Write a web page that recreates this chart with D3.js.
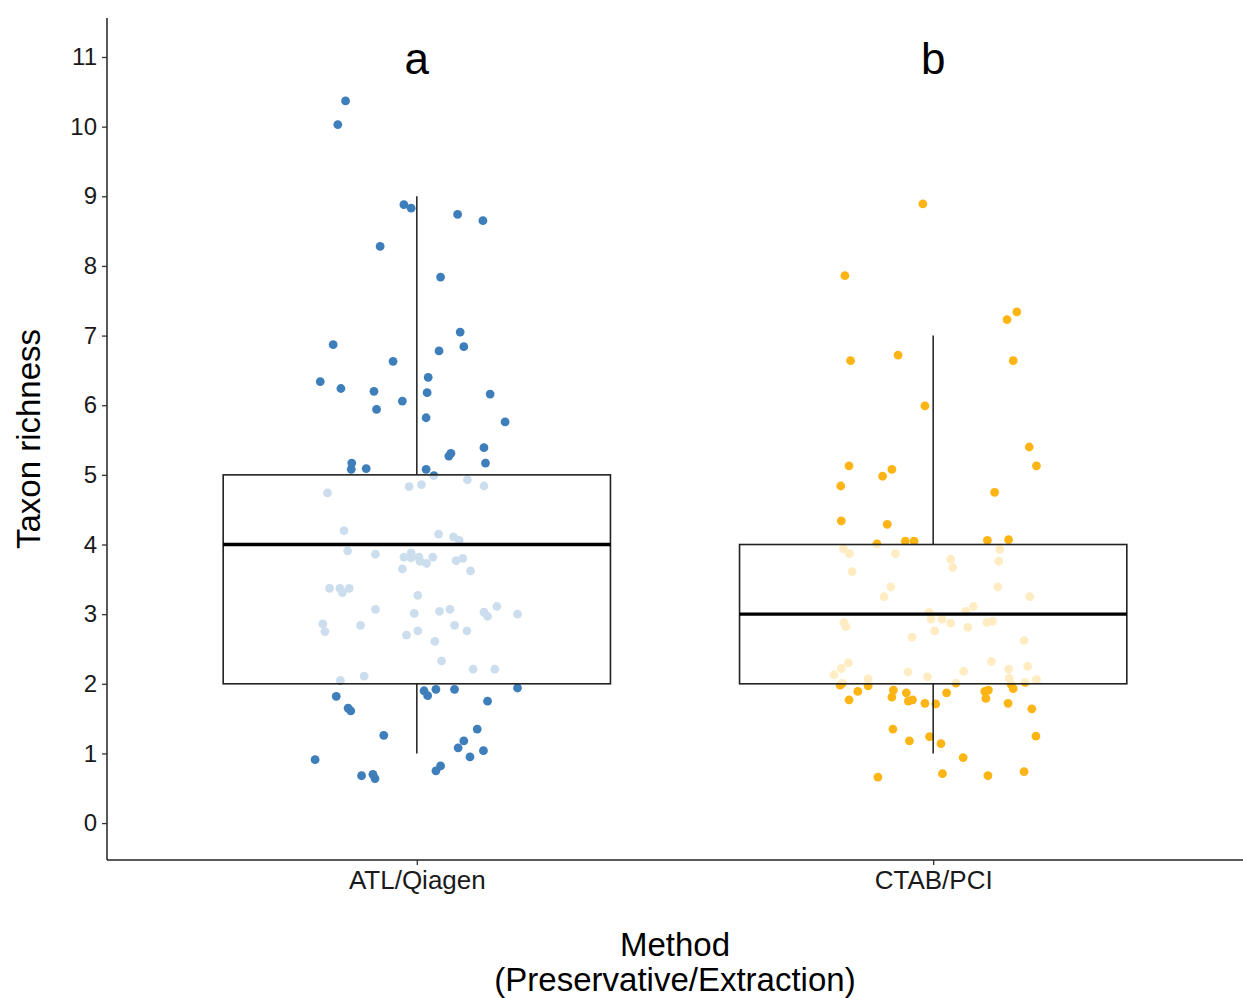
<!DOCTYPE html>
<html>
<head>
<meta charset="utf-8">
<script src="https://cdn.jsdelivr.net/npm/d3@7"></script>
<style>
  html, body { margin: 0; padding: 0; background: #fff; }
  svg { display: block; }
  text { font-family: "Liberation Sans", Arial, sans-serif; }
</style>
</head>
<body>
<svg id="chart" width="1243" height="998"></svg>
<script>
// ---------- data ----------
const categories = ["ATL/Qiagen", "CTAB/PCI"];
const groupLetters = ["a", "b"];
const pointColors = ["#3d7ebb", "#fdb515"];

// box statistics: [lower whisker, Q1, median, Q3, upper whisker]
const boxATL  = [1, 2, 4, 5, 9];
const boxCTAB = [1, 2, 3, 4, 7];

// jittered observations (richness as plotted, horizontal jitter as fraction of category step)
const atlRichness = [10.37,10.03,8.88,8.83,8.74,8.65,8.28,7.84,7.05,6.87,6.84,6.78,6.63,6.40,6.34,6.24,6.20,6.18,6.16,6.06,
  5.94,5.82,5.76,5.39,5.31,5.27,5.17,5.17,5.08,5.09,5.08,4.99,4.74,4.83,4.86,4.93,4.84,4.20,4.15,4.11,
  4.06,3.91,3.86,3.82,3.88,3.81,3.82,3.76,3.73,3.82,3.77,3.80,3.65,3.62,3.37,3.37,3.31,3.37,3.27,3.07,
  3.01,3.04,3.07,3.03,2.97,3.11,3.00,2.86,2.75,2.84,2.76,2.70,2.84,2.76,2.61,2.33,2.21,2.21,2.11,2.05,
  1.82,1.90,1.83,1.92,1.92,1.94,1.75,1.65,1.61,1.26,0.91,0.68,0.70,0.64,1.35,1.18,1.08,1.04,0.95,0.82,0.75];
const atlJitter = [-0.138,-0.153,-0.025,-0.011,0.079,0.128,-0.071,0.046,0.084,-0.162,0.091,0.043,-0.046,0.022,-0.187,-0.147,-0.083,0.020,0.142,-0.028,
  -0.078,0.018,0.171,0.130,0.066,0.062,0.133,-0.126,-0.127,-0.098,0.018,0.033,-0.173,-0.015,0.009,0.098,0.130,-0.141,0.042,0.071,
  0.082,-0.134,-0.080,-0.025,-0.011,-0.011,0.004,0.006,0.019,0.031,0.076,0.089,-0.028,0.104,-0.169,-0.149,-0.144,-0.131,0.002,-0.080,
  -0.005,0.044,0.064,0.130,0.137,0.155,0.195,-0.182,-0.178,-0.109,0.002,-0.020,0.073,0.097,0.035,0.048,0.109,0.151,-0.102,-0.148,
  -0.156,0.014,0.021,0.037,0.073,0.195,0.137,-0.133,-0.128,-0.064,-0.197,-0.107,-0.085,-0.081,0.117,0.091,0.080,0.129,0.103,0.046,0.037];

const ctabRichness = [8.89,7.86,7.34,7.23,6.64,6.72,6.64,5.99,5.40,5.13,5.13,5.08,4.98,4.84,4.75,4.34,4.29,4.01,4.05,4.05,
  4.06,4.07,3.94,3.87,3.87,3.79,3.67,3.93,3.76,3.61,3.39,3.25,3.39,3.25,3.11,3.04,3.03,2.93,2.93,2.87,
  2.81,2.76,2.88,2.90,2.88,2.82,2.67,2.62,2.30,2.22,2.13,2.17,2.10,2.18,2.32,2.21,2.25,2.07,2.08,2.06,
  1.98,2.01,1.89,1.97,1.77,1.91,1.81,1.87,1.75,1.77,1.72,1.71,1.87,2.01,1.89,1.91,1.79,1.72,1.99,1.93,
  1.64,2.02,1.35,1.18,1.24,1.14,0.94,1.25,0.66,0.71,0.68,0.74];
const ctabJitter = [-0.020,-0.171,0.162,0.143,-0.160,-0.068,0.155,-0.016,0.186,0.200,-0.163,-0.080,-0.098,-0.179,0.119,-0.178,-0.089,-0.109,-0.054,-0.037,
  0.105,0.146,-0.174,-0.162,-0.073,0.034,0.038,0.129,0.127,-0.157,-0.082,-0.095,0.125,0.187,0.078,0.063,-0.008,-0.004,0.017,0.034,
  0.067,0.003,0.104,0.115,-0.173,-0.169,-0.041,0.176,-0.164,-0.178,-0.192,-0.049,-0.011,0.059,0.113,0.146,0.183,-0.126,0.147,0.200,
  -0.180,-0.176,-0.146,-0.126,-0.163,-0.077,-0.080,-0.052,-0.048,-0.040,-0.016,0.005,0.026,0.044,0.100,0.107,0.102,0.145,0.151,0.155,
  0.191,0.178,-0.078,-0.046,-0.007,0.015,0.058,0.199,-0.107,0.018,0.106,0.176];

const yTicks = [0,1,2,3,4,5,6,7,8,9,10,11];
const yTitle = "Taxon richness";
const xTitleLines = ["Method", "(Preservative/Extraction)"];

// ---------- layout ----------
const svg = d3.select("#chart");
const pLeft = 107, pRight = 1243, pTop = 18, pBottom = 860;

const x = d3.scalePoint().domain(categories).range([pLeft, pRight]).padding(0.6);
const step = x.step();
const y = d3.scaleLinear().domain([-0.53, 11.56]).range([pBottom, pTop]);

const groups = [
  { cat: categories[0], box: boxATL,  r: atlRichness,  j: atlJitter,  color: pointColors[0], letter: groupLetters[0] },
  { cat: categories[1], box: boxCTAB, r: ctabRichness, j: ctabJitter, color: pointColors[1], letter: groupLetters[1] }
];

// points
groups.forEach(g => {
  svg.append("g").selectAll("circle")
    .data(g.r.map((v, i) => ({ v, j: g.j[i] })))
    .join("circle")
    .attr("cx", d => x(g.cat) + d.j * step)
    .attr("cy", d => y(d.v))
    .attr("r", 4.4)
    .attr("fill", g.color);
});

// boxes
const boxW = step * 0.75;
groups.forEach(g => {
  const cx = x(g.cat);
  const [lo, q1, med, q3, hi] = g.box;
  const bg = svg.append("g");
  bg.append("line").attr("x1", cx).attr("x2", cx).attr("y1", y(q3)).attr("y2", y(hi))
    .attr("stroke", "#2b2b2b").attr("stroke-width", 1.6);
  bg.append("line").attr("x1", cx).attr("x2", cx).attr("y1", y(lo)).attr("y2", y(q1))
    .attr("stroke", "#2b2b2b").attr("stroke-width", 1.6);
  bg.append("rect").attr("x", cx - boxW / 2).attr("y", y(q3))
    .attr("width", boxW).attr("height", y(q1) - y(q3))
    .attr("fill", "#fff").attr("fill-opacity", 0.74)
    .attr("stroke", "#222").attr("stroke-width", 1.6);
  bg.append("line").attr("x1", cx - boxW / 2).attr("x2", cx + boxW / 2)
    .attr("y1", y(med)).attr("y2", y(med))
    .attr("stroke", "#000").attr("stroke-width", 3.4);
  svg.append("text").attr("x", cx).attr("y", 74).attr("text-anchor", "middle")
    .attr("font-size", 44).attr("fill", "#000").text(g.letter);
});

// axes
const yAxis = d3.axisLeft(y).tickValues(yTicks).tickSize(5).tickPadding(5).tickFormat(d3.format("d"));
const ya = svg.append("g").attr("transform", `translate(${pLeft},0)`).call(yAxis);
ya.select(".domain").attr("d", `M0,${pTop}V${pBottom}`).attr("stroke", "#222").attr("stroke-width", 1.5);
ya.selectAll(".tick line").attr("stroke", "#333").attr("stroke-width", 1.3);
ya.selectAll(".tick text").attr("font-size", 24).attr("fill", "#1a1a1a")
  .attr("font-family", "'Liberation Sans', Arial, sans-serif");

const xAxis = d3.axisBottom(x).tickSize(5).tickPadding(6);
const xa = svg.append("g").attr("transform", `translate(0,${pBottom})`).call(xAxis);
xa.select(".domain").attr("d", `M${pLeft},0H${pRight}`).attr("stroke", "#222").attr("stroke-width", 1.5);
xa.selectAll(".tick line").attr("stroke", "#333").attr("stroke-width", 1.3);
xa.selectAll(".tick text").attr("font-size", 26).attr("fill", "#1a1a1a")
  .attr("font-family", "'Liberation Sans', Arial, sans-serif");

// titles
svg.append("text")
  .attr("transform", `translate(40,${(pTop + pBottom) / 2}) rotate(-90)`)
  .attr("text-anchor", "middle").attr("font-size", 33).attr("fill", "#000").text(yTitle);

svg.selectAll(".xtitle").data(xTitleLines).join("text")
  .attr("class", "xtitle")
  .attr("x", (pLeft + pRight) / 2).attr("y", (d, i) => 956 + i * 35)
  .attr("text-anchor", "middle").attr("font-size", 33).attr("fill", "#000").text(d => d);
</script>
</body>
</html>
